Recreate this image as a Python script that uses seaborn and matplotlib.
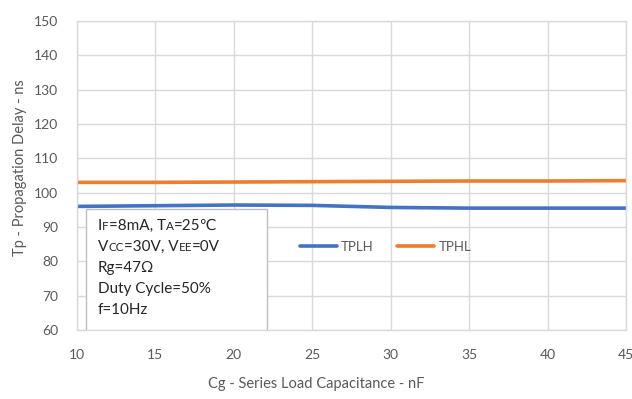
import numpy as np
import pandas as pd
import seaborn as sns
import matplotlib.pyplot as plt
from matplotlib.offsetbox import TextArea, HPacker, VPacker, AnchoredOffsetbox
from matplotlib.patches import Rectangle

# Propagation delay vs. series load capacitance
cap_nf = [10, 15, 20, 25, 30, 35, 40, 45]
tplh_ns = [96.0, 96.2, 96.4, 96.3, 95.7, 95.5, 95.5, 95.5]
tphl_ns = [103.0, 103.0, 103.1, 103.2, 103.3, 103.4, 103.4, 103.5]
series_names = ["TPLH", "TPHL"]
x_ticks = [10, 15, 20, 25, 30, 35, 40, 45]
y_ticks = [60, 70, 80, 90, 100, 110, 120, 130, 140, 150]

sns.set_theme(style="white")
plt.rcParams["font.family"] = ["Lato", "DejaVu Sans"]

GREY_TXT = "#595959"
GRID = "#d9d9d9"
palette = {"TPLH": "#4472C4", "TPHL": "#ED7D31"}

df = pd.DataFrame({
    "Cg": cap_nf * 2,
    "Tp": tplh_ns + tphl_ns,
    "Series": [series_names[0]] * len(cap_nf) + [series_names[1]] * len(cap_nf),
})

fig = plt.figure(figsize=(6.32, 3.99), dpi=100)
ax = fig.add_axes([77 / 632, 1 - 330 / 399, (626 - 77) / 632, (330 - 21) / 399])

sns.lineplot(data=df, x="Cg", y="Tp", hue="Series", palette=palette,
             linewidth=2.6, ax=ax)

ax.set_xlim(10, 45)
ax.set_ylim(60, 150)
ax.set_xticks(x_ticks)
ax.set_yticks(y_ticks)
ax.grid(True, color=GRID, linewidth=1)
ax.set_axisbelow(True)
for s in ax.spines.values():
    s.set_color(GRID)
    s.set_linewidth(1)
ax.tick_params(length=0, labelsize=10, labelcolor=GREY_TXT)
ax.tick_params(axis="y", pad=13.5)
ax.tick_params(axis="x", pad=13.5)
ax.set_xlabel("")
ax.set_ylabel("")

fig.text(316 / 632, 1 - 384 / 399, "Cg - Series Load Capacitance - nF",
         ha="center", va="center", fontsize=10.5, color=GREY_TXT)
fig.text(20 / 632, 1 - 168 / 399, "Tp - Propagation Delay - ns",
         ha="center", va="center", rotation=90, fontsize=10.5, color=GREY_TXT)

ax.legend(loc="center", bbox_to_anchor=(0.562, 0.27), ncol=2, frameon=False,
          fontsize=9.5, handlelength=2.8, columnspacing=1.8, handletextpad=0.3,
          labelcolor=GREY_TXT)

# Test-conditions box
x0 = (86 - 77) / 549
x1 = (267 - 77) / 549
y1 = (330 - 209) / 309
ax.add_patch(Rectangle((x0, 0), x1 - x0, y1, transform=ax.transAxes,
                       facecolor="white", edgecolor="#bfbfbf", linewidth=1,
                       zorder=5))

BIG, SMALL = 11, 8.5
TXT = "#262626"


def seg(s, size):
    return TextArea(s, textprops=dict(fontsize=size, color=TXT,
                                      family=["Lato", "DejaVu Sans"]))


lines = [
    [("I", BIG), ("F", SMALL), ("=8mA, T", BIG), ("A", SMALL), ("=25\u2103", BIG)],
    [("V", BIG), ("CC", SMALL), ("=30V, V", BIG), ("EE", SMALL), ("=0V", BIG)],
    [("Rg=47\u03a9", BIG)],
    [("Duty Cycle=50%", BIG)],
    [("f=10Hz", BIG)],
]
rows = [HPacker(children=[seg(s, z) for s, z in ln], align="baseline", pad=0, sep=0)
        for ln in lines]
box = VPacker(children=rows, align="left", pad=0, sep=5)
anchored = AnchoredOffsetbox(loc="upper left", child=box, frameon=False, pad=0,
                             bbox_to_anchor=((98 - 77) / 549, (330 - 219) / 309),
                             bbox_transform=ax.transAxes, borderpad=0)
anchored.set_zorder(6)
ax.add_artist(anchored)

fig.savefig("out.png", dpi=100, facecolor="white")
